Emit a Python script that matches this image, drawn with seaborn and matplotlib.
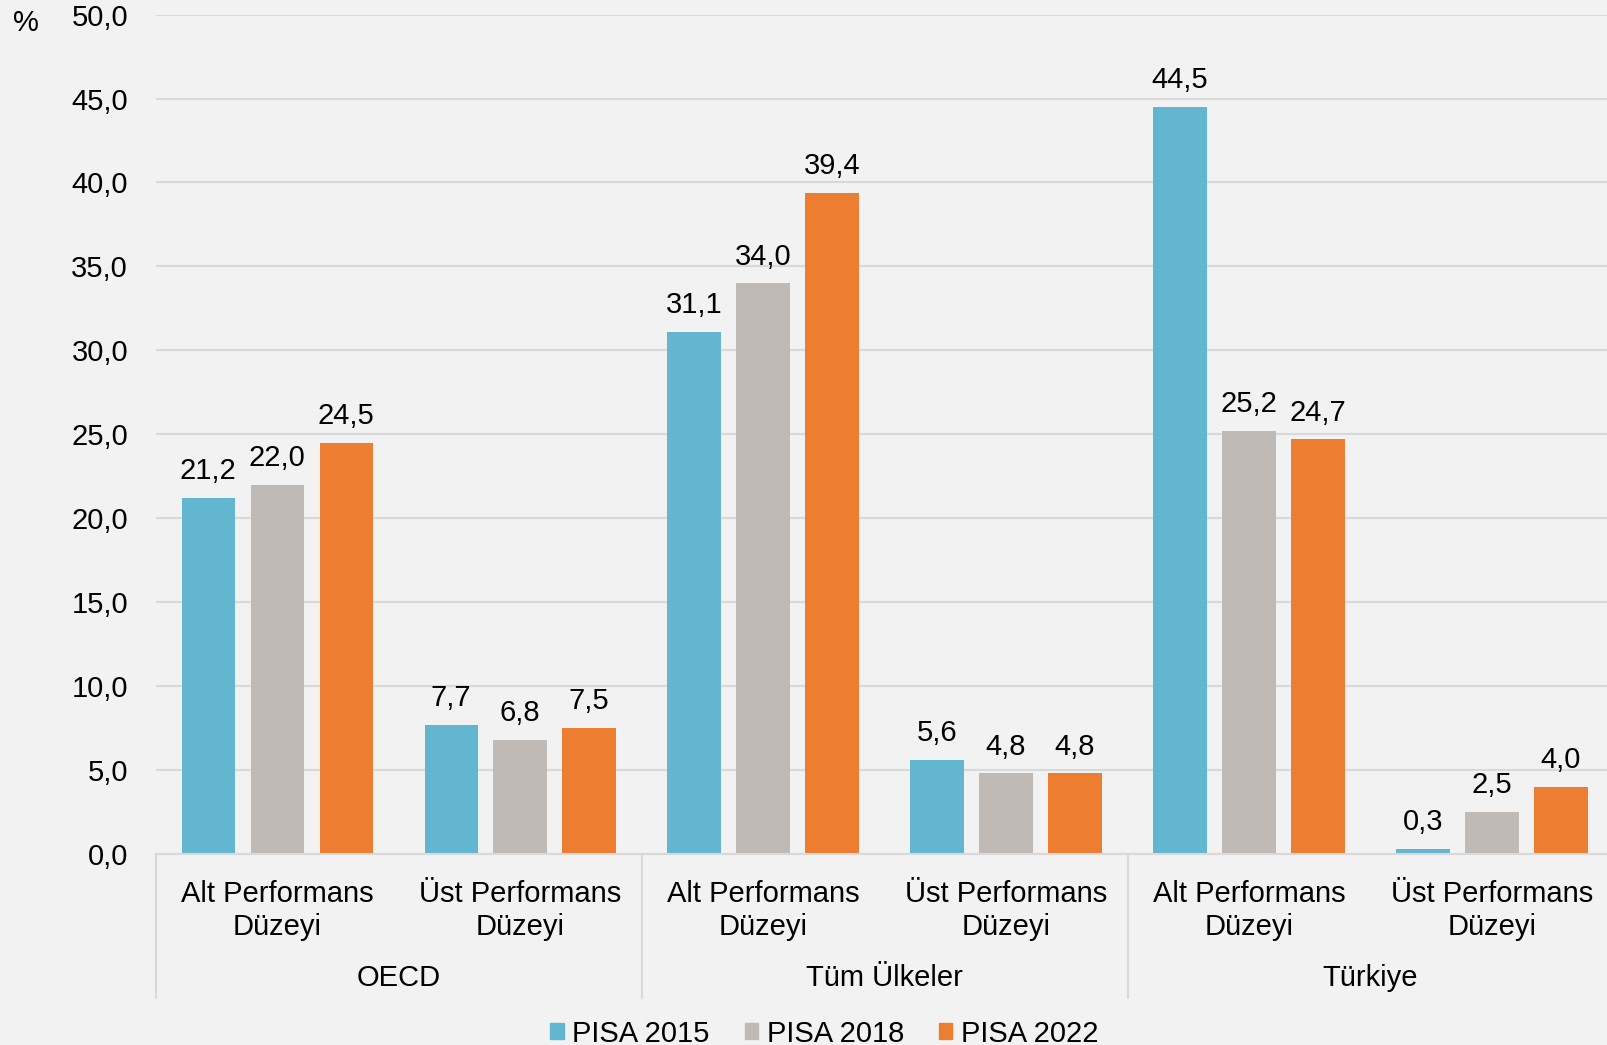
import pandas as pd
import matplotlib.pyplot as plt
import seaborn as sns

# Chart data
groups = ['OECD', 'Tüm Ülkeler', 'Türkiye']
levels = ['Alt Performans\nDüzeyi', 'Üst Performans\nDüzeyi']
series = ['PISA 2015', 'PISA 2018', 'PISA 2022']
pisa_2015 = [21.2, 7.7, 31.1, 5.6, 44.5, 0.3]
pisa_2018 = [22.0, 6.8, 34.0, 4.8, 25.2, 2.5]
pisa_2022 = [24.5, 7.5, 39.4, 4.8, 24.7, 4.0]
colors = ['#62B6D0', '#BFBAB6', '#ED7D31']

# Long format table for seaborn
keys = [f'{g}|{l}' for g in groups for l in levels]
rows = []
for name, vals in zip(series, [pisa_2015, pisa_2018, pisa_2022]):
    for k, v in zip(keys, vals):
        rows.append({'key': k, 'Seri': name, 'Değer': v})
df = pd.DataFrame(rows)

sns.set_style('white')
plt.rcParams['font.family'] = ['Liberation Sans', 'DejaVu Sans']
plt.rcParams['text.color'] = 'black'
plt.rcParams['xtick.color'] = 'black'
plt.rcParams['ytick.color'] = 'black'
bg = '#F2F2F2'
fs = 21

fig = plt.figure(figsize=(16.07, 10.45), dpi=100, facecolor=bg)
ax = fig.add_axes([0.097, 0.183, 0.907, 0.803])
ax.set_facecolor(bg)

sns.barplot(data=df, x='key', y='Değer', hue='Seri', order=keys, hue_order=series,
            palette=colors, width=0.852, gap=0.224, saturation=1, linewidth=0,
            ax=ax, legend=False)

for cont in ax.containers:
    labels = [f'{b.get_height():.1f}'.replace('.', ',') for b in cont]
    ax.bar_label(cont, labels=labels, padding=9, fontsize=fs)

ax.set_ylim(0, 50)
ax.set_xlim(-0.5, len(keys) - 0.5)
ticks = [i * 5 for i in range(11)]
ax.set_yticks(ticks)
ax.set_yticklabels([f'{t:.1f}'.replace('.', ',') for t in ticks], fontsize=fs)
ax.set_xticks(range(len(keys)))
ax.set_xticklabels([l for g in groups for l in levels], fontsize=fs, linespacing=1.2)
ax.tick_params(axis='x', length=0, pad=19)
ax.tick_params(axis='y', length=0, pad=20)
ax.yaxis.grid(True, color='#D9D9D9', linewidth=1.5)
ax.set_axisbelow(True)
ax.set_xlabel('')
ax.set_ylabel('')
for s in ['left', 'right', 'top']:
    ax.spines[s].set_visible(False)
ax.spines['bottom'].set_color('#D9D9D9')
ax.spines['bottom'].set_linewidth(1.5)

# group separators and group labels
trans = ax.get_xaxis_transform()
for x in [-0.5, 1.5, 3.5, 5.5]:
    ax.plot([x, x], [0, -0.172], transform=trans, color='#D9D9D9', lw=1.5, clip_on=False)
for i, g in enumerate(groups):
    ax.text(2 * i + 0.5, -0.148, g, transform=trans, ha='center', va='center', fontsize=fs)

fig.text(0.016, 0.978, '%', ha='center', va='center', fontsize=fs)

handles = [plt.Rectangle((0, 0), 1, 1, color=c) for c in colors]
fig.legend(handles, series, loc='center', bbox_to_anchor=(0.513, 0.011), ncol=3,
           frameon=False, fontsize=fs, handlelength=0.45, handleheight=0.45,
           handletextpad=0.3, columnspacing=1.2)

fig.savefig('out.png', dpi=100, facecolor=bg)
